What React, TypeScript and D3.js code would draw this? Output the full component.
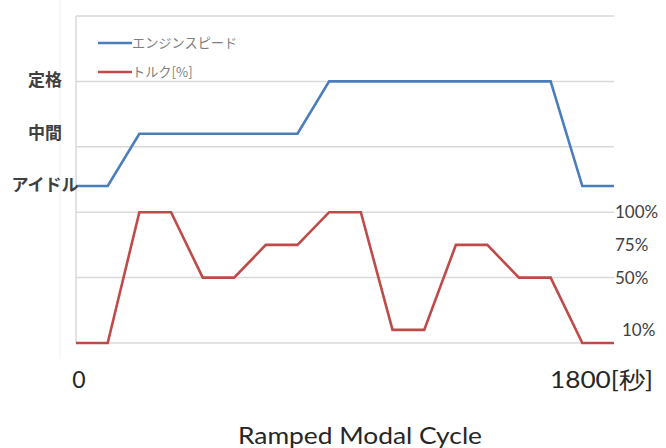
import React from "react";
import * as d3 from "d3";

const times = [0, 106, 212, 318, 424, 529, 635, 741, 847, 953, 1059, 1165, 1271, 1376, 1482, 1588, 1694, 1800];
// engine speed levels: idle=120, mid=160, rated=200 (in chart units)
const speedValues = [120, 120, 160, 160, 160, 160, 160, 160, 200, 200, 200, 200, 200, 200, 200, 200, 120, 120];
const torqueValues = [0, 0, 100, 100, 50, 50, 75, 75, 100, 100, 10, 10, 75, 75, 50, 50, 0, 0];
const gridTicks = [0, 50, 100, 150, 200, 250];
const speedLabels = [
  { label: "定格", value: 200 },
  { label: "中間", value: 160 },
  { label: "アイドル", value: 120 },
];
const torqueLabels = [
  { label: "100%", value: 100, dx: 0 },
  { label: "75%", value: 75, dx: 0 },
  { label: "50%", value: 50, dx: 0 },
  { label: "10%", value: 10, dx: 7 },
];
const legendItems = [
  { label: "エンジンスピード", color: "#4a7ebb" },
  { label: "トルク[%]", color: "#be4b48" },
];

export default function App() {
  const W = 666, H = 448;
  const x = d3.scaleLinear().domain([0, 1800]).range([76, 614]);
  const y = d3.scaleLinear().domain([0, 250]).range([343, 16]);
  const line = d3.line<number>().x((_, i) => x(times[i])).y((d) => y(d));
  const jp = "'Noto Sans CJK JP', sans-serif";
  const lat = "Lato, 'Open Sans', sans-serif";
  return (
    <svg width={W} height={H} style={{ position: "absolute", left: 0, top: 0, background: "#fff" }}>
      <line x1={60} x2={60} y1={0} y2={359} stroke="#f0f0f0" strokeWidth={1} />
      {gridTicks.map((t) => (
        <line key={t} x1={x(0)} x2={x(1800)} y1={y(t)} y2={y(t)} stroke="#d9d9d9" strokeWidth={1.5} />
      ))}
      <line x1={x(0)} x2={x(0)} y1={y(250)} y2={y(0)} stroke="#d9d9d9" strokeWidth={1.5} />
      <path d={line(speedValues) || ""} fill="none" stroke="#4a7ebb" strokeWidth={2.6} strokeLinejoin="miter" />
      <path d={line(torqueValues) || ""} fill="none" stroke="#be4b48" strokeWidth={2.6} strokeLinejoin="miter" />
      {legendItems.map((it, i) => (
        <g key={it.label} transform={`translate(98, ${43 + i * 29})`}>
          <line x1={0} x2={34} y1={0} y2={0} stroke={it.color} strokeWidth={2.6} />
          <text x={34} y={0} dy="0.35em" fontFamily={jp} fontSize={13.2} fill="#7f7f7f">{it.label}</text>
        </g>
      ))}
      {speedLabels.map((s) => (
        <text key={s.label} x={45} y={y(s.value) - 1} dy="0.35em" textAnchor="middle" fontFamily={jp} fontSize={17} fontWeight={700} fill="#404040">
          {s.label}
        </text>
      ))}
      {torqueLabels.map((t) => (
        <text key={t.label} x={615 + t.dx} y={y(t.value)} dy="0.35em" fontFamily={lat} fontSize={17} fill="#404040">
          {t.label}
        </text>
      ))}
      <text x={79} y={388} textAnchor="middle" fontFamily={lat} fontSize={23} fill="#262626">0</text>
      <text x={550} y={388} fontFamily={lat} fontSize={23} textLength={103} lengthAdjust="spacingAndGlyphs" fill="#262626">1800[秒]</text>
      <text x={360} y={444} textAnchor="middle" fontFamily={lat} fontSize={24} textLength={244} lengthAdjust="spacingAndGlyphs" fill="#262626">Ramped Modal Cycle</text>
    </svg>
  );
}
